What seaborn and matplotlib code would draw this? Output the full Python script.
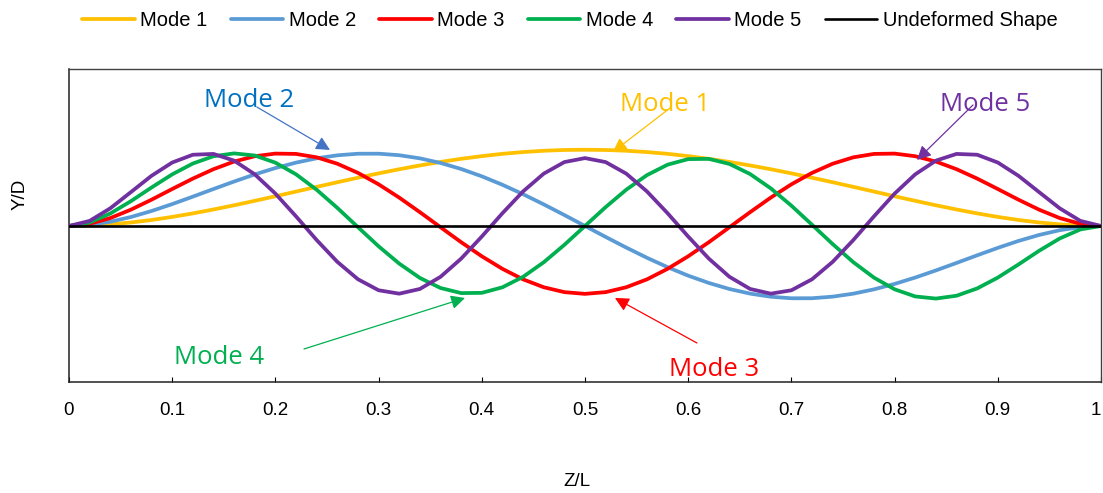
import matplotlib
matplotlib.use("Agg")
import matplotlib.pyplot as plt
import seaborn as sns
import pandas as pd
from matplotlib.lines import Line2D

# ---------------- data ----------------
z_over_l = [0.00, 0.02, 0.04, 0.06, 0.08, 0.10, 0.12, 0.14, 0.16, 0.18,
            0.20, 0.22, 0.24, 0.26, 0.28, 0.30, 0.32, 0.34, 0.36, 0.38,
            0.40, 0.42, 0.44, 0.46, 0.48, 0.50, 0.52, 0.54, 0.56, 0.58,
            0.60, 0.62, 0.64, 0.66, 0.68, 0.70, 0.72, 0.74, 0.76, 0.78,
            0.80, 0.82, 0.84, 0.86, 0.88, 0.90, 0.92, 0.94, 0.96, 0.98, 1.00]

mode1 = [0.000, 0.009, 0.034, 0.073, 0.125, 0.189, 0.262, 0.344, 0.431, 0.524,
         0.619, 0.717, 0.815, 0.911, 1.005, 1.096, 1.182, 1.261, 1.334, 1.399,
         1.455, 1.503, 1.540, 1.567, 1.583, 1.588, 1.583, 1.567, 1.540, 1.503,
         1.455, 1.399, 1.334, 1.261, 1.182, 1.096, 1.005, 0.911, 0.815, 0.717,
         0.619, 0.524, 0.431, 0.344, 0.262, 0.189, 0.125, 0.073, 0.034, 0.009, 0.000]

mode2 = [0.000, 0.023, 0.088, 0.187, 0.312, 0.456, 0.611, 0.770, 0.926, 1.074,
         1.207, 1.320, 1.410, 1.472, 1.505, 1.506, 1.474, 1.409, 1.313, 1.187,
         1.035, 0.858, 0.662, 0.450, 0.228, 0.000, -0.228, -0.450, -0.662, -0.858,
         -1.035, -1.187, -1.313, -1.409, -1.474, -1.506, -1.505, -1.472, -1.410, -1.320,
         -1.207, -1.074, -0.926, -0.770, -0.611, -0.456, -0.312, -0.187, -0.088, -0.023, 0.000]

mode3 = [0.000, 0.045, 0.165, 0.340, 0.548, 0.770, 0.987, 1.183, 1.342, 1.453,
         1.508, 1.501, 1.430, 1.297, 1.106, 0.868, 0.591, 0.288, -0.026, -0.338,
         -0.631, -0.893, -1.112, -1.276, -1.378, -1.414, -1.378, -1.276, -1.112, -0.893,
         -0.631, -0.338, -0.026, 0.288, 0.591, 0.868, 1.106, 1.297, 1.430, 1.501,
         1.508, 1.453, 1.342, 1.183, 0.987, 0.770, 0.548, 0.340, 0.165, 0.045, 0.000]

mode4 = [0.000, 0.072, 0.260, 0.517, 0.802, 1.075, 1.301, 1.453, 1.512, 1.468,
         1.319, 1.076, 0.754, 0.377, -0.025, -0.423, -0.784, -1.082, -1.292, -1.398,
         -1.393, -1.277, -1.059, -0.756, -0.393, 0.000, 0.393, 0.756, 1.059, 1.277,
         1.393, 1.398, 1.292, 1.082, 0.784, 0.423, 0.025, -0.377, -0.754, -1.076,
         -1.319, -1.468, -1.512, -1.453, -1.301, -1.075, -0.802, -0.517, -0.260, -0.072, 0.000]

mode5 = [0.000, 0.106, 0.368, 0.706, 1.046, 1.322, 1.484, 1.501, 1.361, 1.076,
         0.674, 0.200, -0.293, -0.747, -1.110, -1.339, -1.410, -1.312, -1.059, -0.680,
         -0.220, 0.266, 0.720, 1.090, 1.331, 1.414, 1.331, 1.090, 0.720, 0.266,
         -0.220, -0.680, -1.059, -1.312, -1.410, -1.339, -1.110, -0.747, -0.293, 0.200,
         0.674, 1.076, 1.361, 1.501, 1.484, 1.322, 1.046, 0.706, 0.368, 0.106, 0.000]

undeformed_x = [0.0, 1.0]
undeformed_y = [0.0, 0.0]

series_names = ["Mode 1", "Mode 2", "Mode 3", "Mode 4", "Mode 5", "Undeformed Shape"]
x_ticks = [0.0, 0.1, 0.2, 0.3, 0.4, 0.5, 0.6, 0.7, 0.8, 0.9, 1.0]
x_tick_labels = ["0", "0.1", "0.2", "0.3", "0.4", "0.5", "0.6", "0.7", "0.8", "0.9", "1"]

# ---------------- styling ----------------
colors = {"Mode 1": "#FFC000", "Mode 2": "#5B9BD5", "Mode 3": "#FF0000",
          "Mode 4": "#00B050", "Mode 5": "#7030A0", "Undeformed Shape": "#000000"}

sns.set_theme(style="white")
plt.rcParams["font.family"] = ["Liberation Sans", "DejaVu Sans"]
plt.rcParams["text.color"] = "black"

frames = []
for name, vals in zip(series_names[:5], [mode1, mode2, mode3, mode4, mode5]):
    frames.append(pd.DataFrame({"Z/L": z_over_l, "Y/D": vals, "series": name}))
frames.append(pd.DataFrame({"Z/L": undeformed_x, "Y/D": undeformed_y, "series": "Undeformed Shape"}))
df = pd.concat(frames, ignore_index=True)

fig = plt.figure(figsize=(11.03, 4.93), dpi=100)
ax = fig.add_axes([69 / 1103, (493 - 382) / 493, 1032 / 1103, 313 / 493])

for i, name in enumerate(series_names):
    sub = df[df["series"] == name]
    lw = 1.9 if name == "Undeformed Shape" else 2.7
    sns.lineplot(data=sub, x="Z/L", y="Y/D", ax=ax, color=colors[name], lw=lw,
                 sort=False, estimator=None, legend=False, zorder=3 + i)

ax.set_xlim(0, 1)
ax.set_ylim(-3.25, 3.27)
ax.set_xticks(x_ticks)
ax.set_xticklabels(x_tick_labels)
ax.set_yticks([])
ax.set_xlabel("")
ax.set_ylabel("")
ax.tick_params(axis="x", direction="in", length=3.5, width=0.8, color="black",
               labelsize=13.5, pad=14.5, labelcolor="black", bottom=True)
ax.get_xticklabels()[-1].set_horizontalalignment("right")
for s in ["left", "bottom"]:
    ax.spines[s].set_color("#222222")
    ax.spines[s].set_linewidth(1.1)
for s in ["top", "right"]:
    ax.spines[s].set_color("#404040")
    ax.spines[s].set_linewidth(1.0)

fig.text(577 / 1103, 1 - 481 / 493, "Z/L", ha="center", va="center", fontsize=13.5, color="black")
fig.text(20 / 1103, 1 - 194 / 493, "Y/D", ha="center", va="center", rotation=90,
         fontsize=13.5, color="black")

# legend
handles = [Line2D([0], [0], color=colors[n], lw=(1.9 if n == "Undeformed Shape" else 2.7))
           for n in series_names]
fig.legend(handles, series_names, loc="center", bbox_to_anchor=(570 / 1103, 1 - 21 / 493),
           ncol=6, frameon=False, fontsize=14.5, handlelength=2.6, handletextpad=0.28,
           columnspacing=1.15, borderaxespad=0, borderpad=0, labelcolor="black")

# callouts: (label, text colour, arrow colour, text pos, arrow tail, arrow tip)
callouts = [
    ("Mode 1", "#FFC000", "#FFC000", (0.5775, 2.54), (0.580, 2.417), (0.527, 1.542)),
    ("Mode 2", "#0070C0", "#4472C4", (0.174, 2.61), (0.182, 2.479), (0.2529, 1.583)),
    ("Mode 3", "#FF0000", "#FF0000", (0.625, -2.99), (0.6085, -2.4375), (0.529, -1.50)),
    ("Mode 4", "#00B050", "#00B050", (0.1453, -2.74), (0.2277, -2.5625), (0.3837, -1.50)),
    ("Mode 5", "#7030A0", "#7030A0", (0.8876, 2.53), (0.876, 2.521), (0.8217, 1.375)),
]
for label, tcol, acol, tpos, tail, tip in callouts:
    ax.text(tpos[0], tpos[1], label, color=tcol, fontsize=18.5, family="Open Sans",
            ha="center", va="center", zorder=20)
    ax.annotate("", xy=tip, xytext=tail,
                arrowprops=dict(arrowstyle="-|>,head_length=0.6,head_width=0.3",
                                color=acol, lw=0.9, mutation_scale=14,
                                shrinkA=0, shrinkB=0), zorder=21)

fig.savefig("out.png", dpi=100)
